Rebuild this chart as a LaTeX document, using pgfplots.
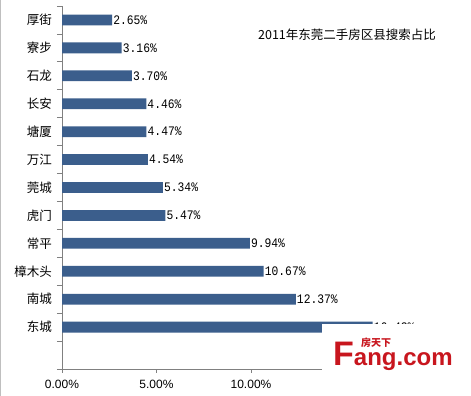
\documentclass[border=0pt]{standalone}
\usepackage{pgfplots}
\pgfplotsset{compat=1.18}
\usepackage{fontspec}
\newfontfamily\cjk{Noto Sans CJK SC}
\newfontfamily\lblfont[FakeStretch=0.87]{Liberation Mono}
\newfontfamily\tickfont{Liberation Sans}
\newfontfamily\logofont{Liberation Sans}
\definecolor{barblue}{RGB}{59,94,140}
\definecolor{axisgray}{RGB}{128,128,128}
\definecolor{logored}{RGB}{200,22,30}
\begin{document}
\begin{tikzpicture}[x=1pt,y=1pt]
\useasboundingbox (0,0) rectangle (471,396);
\fill[white] (0,0) rectangle (471,396);
\draw[gray!50, line width=1.2pt] (0.6,0) -- (0.6,396);
\begin{axis}[
  at={(62pt,27pt)}, anchor=south west,
  scale only axis, width=378pt, height=363pt,
  xbar, bar width=10.8pt, bar shift=0pt,
  xmin=0, xmax=20, ymin=-0.5, ymax=12.5,
  axis lines*=left,
  axis line style={axisgray, line width=0.8pt},
  /pgf/number format/assume math mode=true,
  xtick={0,5,10,15,20},
  xticklabel={\pgfmathprintnumber[fixed,fixed zerofill,precision=2]{\tick}\%},
  xticklabel style={font=\tickfont\fontsize{12}{12}\selectfont, inner sep=0pt, yshift=-7pt},
  tick align=outside, major tick length=4pt,
  tick style={axisgray, line width=0.8pt},
  ytick={1,...,12},
  yticklabels={东城,南城,樟木头,常平,虎门,莞城,万江,塘厦,长安,石龙,寮步,厚街},
  ytick style={draw=none},
  yticklabel style={font=\cjk\fontsize{12.5}{12.5}\selectfont, inner sep=0pt, xshift=-6pt},
  extra y ticks={-0.5,0.5,...,12.5},
  extra y tick labels={},
  extra y tick style={ytick style={draw=axisgray}, major tick length=5pt},
  nodes near coords={\pgfmathprintnumber[fixed,fixed zerofill,precision=2]{\pgfplotspointmeta}\%},
  nodes near coords style={font=\lblfont\fontsize{13}{13}\selectfont, anchor=west, inner sep=1pt, text=black},
  point meta=x,
  clip=false,
]
\addplot[fill=barblue, draw=none] coordinates {(16.43,1) (12.37,2) (10.67,3) (9.94,4) (5.47,5) (5.34,6) (4.54,7) (4.47,8) (4.46,9) (3.70,10) (3.16,11) (2.65,12)};
\end{axis}
\node[font=\cjk\fontsize{12.5}{12.5}\selectfont, inner sep=0] at (347,361) {2011年东莞二手房区县搜索占比};
\fill[white] (322,0) rectangle (471,72);
\node[anchor=base west, inner sep=0, text=logored, font=\logofont\bfseries] at (333,30) {\fontsize{34}{34}\selectfont F\fontsize{24}{24}\selectfont ang.com};
\node[text=logored, font=\cjk\bfseries\fontsize{10}{10}\selectfont, inner sep=0] at (376,53) {房天下};
\end{tikzpicture}
\end{document}
